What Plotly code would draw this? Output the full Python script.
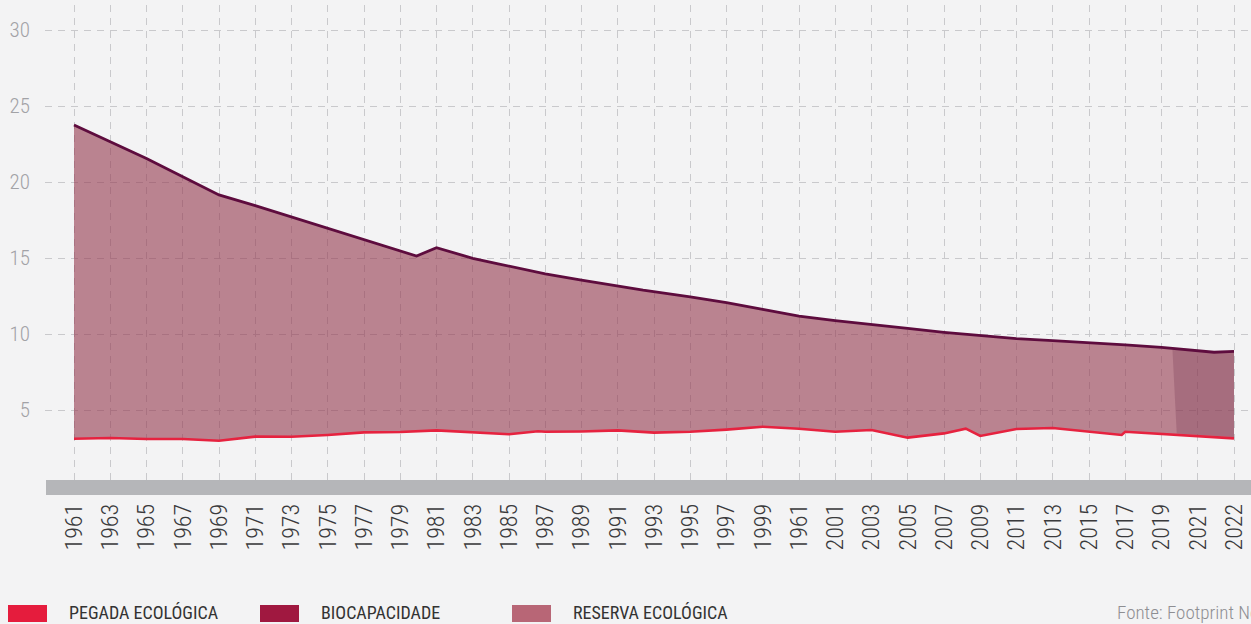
import numpy as np
import plotly.graph_objects as go

# ---- data ----
tick_labels = ["1961", "1963", "1965", "1967", "1969", "1971", "1973", "1975", "1977", "1979",
               "1981", "1983", "1985", "1987", "1989", "1991", "1993", "1995", "1997", "1999",
               "1961", "2001", "2003", "2005", "2007", "2009", "2011", "2013", "2015", "2017",
               "2019", "2021", "2022"]

bio_pos = [0, 1, 2, 3, 4, 5, 6, 7, 8, 9, 9.45, 10, 11, 11.7, 13, 14, 15, 15.7, 17, 18, 19,
           20, 21, 22, 23, 24, 25, 26, 27, 28, 29, 30, 31, 31.45, 32]
bio_val = [23.75, 22.65, 21.55, 20.35, 19.15, 18.45, 17.7, 16.95, 16.2, 15.5, 15.13, 15.68,
           14.98, 14.62, 13.95, 13.55, 13.16, 12.88, 12.45, 12.06, 11.62, 11.18, 10.88, 10.64,
           10.37, 10.11, 9.89, 9.69, 9.56, 9.43, 9.28, 9.12, 8.92, 8.8, 8.86]

peg_pos = [0, 1, 2, 3, 4, 5, 6, 7, 8, 9, 10, 11, 12, 12.8, 13, 14, 15, 16, 17, 18, 19, 20,
           21, 22, 23, 24, 24.6, 25, 26, 27, 28, 28.9, 29, 30, 31, 32]
peg_val = [3.11, 3.16, 3.09, 3.09, 2.98, 3.25, 3.24, 3.36, 3.53, 3.55, 3.66, 3.53, 3.40, 3.6,
           3.57, 3.59, 3.66, 3.51, 3.57, 3.71, 3.90, 3.77, 3.57, 3.68, 3.18, 3.46, 3.77, 3.29,
           3.75, 3.82, 3.57, 3.36, 3.57, 3.42, 3.29, 3.13]

legend_names = ["PEGADA ECOLÓGICA", "BIOCAPACIDADE", "RESERVA ECOLÓGICA"]
legend_colors = ["#e51c3d", "#a01840", "#b86676"]
source_text = "Fonte: Footprint Network"

# ---- style ----
W, H = 1251, 624
ML, MR, MT, MB = 45, 0, 5, 144
PW, PH = W - ML - MR, H - MT - MB
FONT = "Roboto Condensed, Liberation Sans Narrow, Arial Narrow, Roboto, sans-serif"
BG = "#f3f3f4"

def px2x(px):
    return (px - ML) / PW

def py2y(py):
    return (H - MB - py) / PH

fig = go.Figure()

# fill base (pegada) and area to biocapacity
fig.add_trace(go.Scatter(x=peg_pos, y=peg_val, mode="lines", line=dict(width=0),
                         hoverinfo="skip", showlegend=False))
fig.add_trace(go.Scatter(x=bio_pos, y=bio_val, mode="lines", line=dict(width=0),
                         fill="tonexty", fillcolor="rgba(150,62,82,0.62)",
                         hoverinfo="skip", showlegend=False))

# darker decorative band near the end (derived from the series)
grid_top = np.linspace(30.3, 32, 12)
grid_bot = np.linspace(32, 30.42, 12)
ov_x = list(grid_top) + list(grid_bot)
ov_y = list(np.interp(grid_top, bio_pos, bio_val)) + list(np.interp(grid_bot, peg_pos, peg_val) + 0.09)
fig.add_trace(go.Scatter(x=ov_x, y=ov_y, mode="lines", line=dict(width=0), fill="toself",
                         fillcolor="rgba(115,55,80,0.28)", hoverinfo="skip", showlegend=False))

fig.add_trace(go.Scatter(x=peg_pos, y=peg_val, mode="lines",
                         line=dict(color="#e6223f", width=2.6), showlegend=False))
fig.add_trace(go.Scatter(x=bio_pos, y=bio_val, mode="lines",
                         line=dict(color="#5e0c3e", width=2.8), showlegend=False))

shapes = []
# gray baseline bar
shapes.append(dict(type="rect", xref="paper", yref="paper", x0=px2x(46), x1=1.0,
                   y0=py2y(495), y1=py2y(480), fillcolor="#b5b6b9", line=dict(width=0),
                   layer="above"))

annotations = []
sw_x = [8, 260, 512]
tx_x = [67, 319, 571]
for name, col, sx, tx in zip(legend_names, legend_colors, sw_x, tx_x):
    shapes.append(dict(type="rect", xref="paper", yref="paper", x0=px2x(sx), x1=px2x(sx + 39),
                       y0=py2y(622), y1=py2y(605), fillcolor=col, line=dict(width=0)))
    annotations.append(dict(xref="paper", yref="paper", x=px2x(tx), y=py2y(612.5),
                            xanchor="left", yanchor="middle", showarrow=False, text=name,
                            font=dict(family=FONT, size=18, color="#333333")))
annotations.append(dict(xref="paper", yref="paper", x=px2x(1115), y=py2y(612.5),
                        xanchor="left", yanchor="middle", showarrow=False, text=source_text,
                        font=dict(family=FONT, size=19, color="#8e8e92", weight=300)))

fig.update_layout(
    width=W, height=H,
    margin=dict(l=ML, r=MR, t=MT, b=MB),
    paper_bgcolor=BG, plot_bgcolor=BG,
    showlegend=False,
    shapes=shapes, annotations=annotations,
    font=dict(family=FONT),
)
fig.update_xaxes(range=[(ML - 74) / 36.25, (W - MR - 74) / 36.25],
                 tickmode="array", tickvals=list(range(len(tick_labels))), ticktext=tick_labels,
                 tickangle=-90, tickfont=dict(family=FONT, size=24, color="#3a3a3c", weight=300),
                 ticklabelstandoff=18,
                 showgrid=True, gridcolor="#c9c9cc", griddash="7px,6px", gridwidth=1,
                 zeroline=False, showline=False, ticks="")
y0 = 0 + (486 - (H - MB)) / 15.2
fig.update_yaxes(range=[y0, y0 + PH / 15.2],
                 tickmode="array", tickvals=[5, 10, 15, 20, 25, 30],
                 tickfont=dict(family=FONT, size=21, color="#a2a2a6", weight=300),
                 ticklabelstandoff=14,
                 showgrid=True, gridcolor="#c9c9cc", griddash="7px,6px", gridwidth=1,
                 zeroline=False, showline=False, ticks="")

fig.write_html("out.html", config={"displayModeBar": False},
               post_script="document.body.style.margin='0';document.body.style.overflow='hidden';")
